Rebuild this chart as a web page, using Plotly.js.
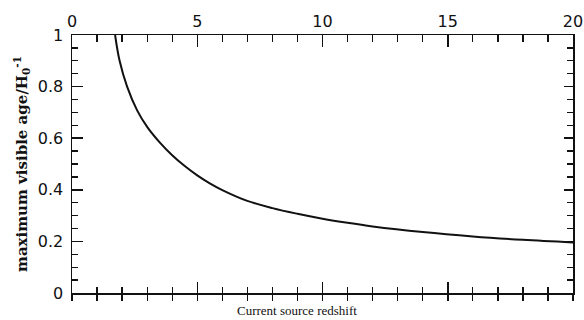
<!DOCTYPE html>
<html>
<head>
<meta charset="utf-8">
<script src="https://cdn.plot.ly/plotly-3.0.1.min.js"></script>
<style>html,body{margin:0;padding:0;background:#fff;}#chart{width:584px;height:320px;}</style>
</head>
<body>
<div id="chart"></div>
<script>
// Current source redshift
var redshift = [1.72, 1.9, 2.2, 2.6, 3.0, 3.5, 4.0, 4.5, 5.0, 5.5, 6.0, 7.0, 8.0, 9.0, 10.0, 11.0, 12.0, 14.0, 16.0, 18.0, 20.0];
// maximum visible age / H0^-1
var maxAge  = [1.0, 0.9, 0.8, 0.708, 0.644, 0.584, 0.534, 0.492, 0.456, 0.425, 0.399, 0.357, 0.329, 0.307, 0.288, 0.272, 0.258, 0.236, 0.219, 0.206, 0.196];

var xTitle = 'Current source redshift';
var yTitle = 'maximum visible age/H<sub>0</sub><sup>-1</sup>';

var tickFont = {family: 'DejaVu Sans', size: 16, color: '#111'};
var black = '#111';

var traces = [
  {x: redshift, y: maxAge, xaxis: 'x', yaxis: 'y', mode: 'lines', line: {color: black, width: 2, shape: 'spline', smoothing: 1}, hoverinfo: 'skip', showlegend: false},
  {x: redshift, y: maxAge, xaxis: 'x2', yaxis: 'y', mode: 'lines', opacity: 0, line: {width: 0}, hoverinfo: 'skip', showlegend: false},
  {x: redshift, y: maxAge, xaxis: 'x3', yaxis: 'y', mode: 'lines', opacity: 0, line: {width: 0}, hoverinfo: 'skip', showlegend: false},
  {x: redshift, y: maxAge, xaxis: 'x', yaxis: 'y2', mode: 'lines', opacity: 0, line: {width: 0}, hoverinfo: 'skip', showlegend: false}
];

var layout = {
  width: 584, height: 320,
  margin: {l: 72, r: 11, t: 35, b: 27, pad: 0},
  paper_bgcolor: '#fff', plot_bgcolor: '#fff',
  showlegend: false,
  xaxis: {
    side: 'top', range: [0, 20], dtick: 5, tick0: 0,
    ticks: 'inside', ticklen: 12, tickwidth: 1.5, tickcolor: black,
    minor: {dtick: 1, ticks: 'inside', ticklen: 7, tickwidth: 1.3, tickcolor: black},
    showline: true, linewidth: 1.5, linecolor: black,
    showgrid: false, zeroline: false, tickfont: tickFont, fixedrange: true
  },
  xaxis2: {
    overlaying: 'x', side: 'bottom', anchor: 'y', range: [0, 20], dtick: 5, tick0: 0,
    ticks: 'inside', ticklen: 11, tickwidth: 1.5, tickcolor: black,
    minor: {dtick: 1, ticks: 'inside', ticklen: 6, tickwidth: 1.3, tickcolor: black},
    showline: true, linewidth: 1.5, linecolor: black,
    showticklabels: false, showgrid: false, zeroline: false, fixedrange: true
  },
  xaxis3: {
    overlaying: 'x', side: 'bottom', anchor: 'y', range: [0, 20], dtick: 5, tick0: 0,
    ticks: 'outside', ticklen: 7, tickwidth: 1.5, tickcolor: black,
    minor: {dtick: 1, ticks: 'outside', ticklen: 7, tickwidth: 1.3, tickcolor: black},
    showline: false, showticklabels: false, showgrid: false, zeroline: false, fixedrange: true
  },
  yaxis: {
    range: [0, 1], dtick: 0.2, tick0: 0,
    ticks: 'inside', ticklen: 11, tickwidth: 1.5, tickcolor: black,
    minor: {dtick: 0.05, ticks: 'inside', ticklen: 6, tickwidth: 1.3, tickcolor: black},
    showline: true, linewidth: 1.5, linecolor: black,
    showgrid: false, zeroline: false, tickfont: tickFont, ticklabelstandoff: 4,
    title: {text: yTitle, font: {family: 'DejaVu Serif', size: 15, color: black, weight: 'bold'}, standoff: 6},
    fixedrange: true
  },
  yaxis2: {
    overlaying: 'y', side: 'right', anchor: 'x', range: [0, 1], dtick: 0.2, tick0: 0,
    ticks: 'inside', ticklen: 9, tickwidth: 1.5, tickcolor: black,
    minor: {dtick: 0.05, ticks: 'inside', ticklen: 6, tickwidth: 1.3, tickcolor: black},
    showline: true, linewidth: 1.5, linecolor: black,
    showticklabels: false, showgrid: false, zeroline: false, fixedrange: true
  },
  annotations: [
    {text: xTitle, xref: 'paper', yref: 'paper', x: 0.45, y: 0, yshift: -17, xanchor: 'center', yanchor: 'middle', showarrow: false,
     font: {family: 'Liberation Serif', size: 13, color: black}}
  ]
};

Plotly.newPlot('chart', traces, layout, {displayModeBar: false, staticPlot: true});
</script>
</body>
</html>
